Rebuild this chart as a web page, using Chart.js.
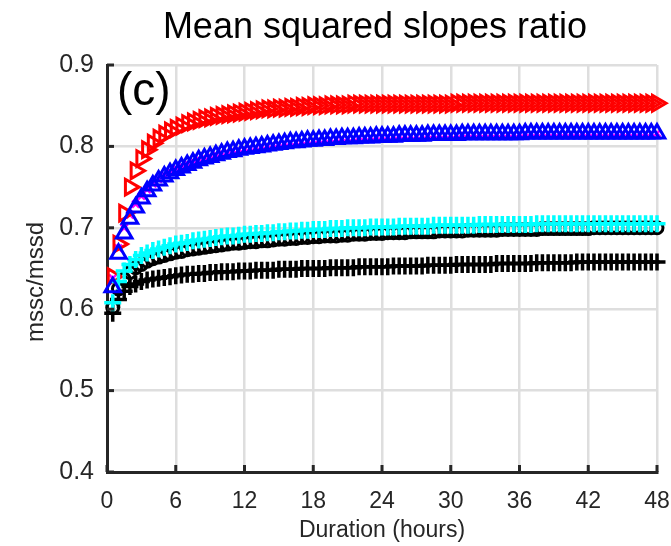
<!DOCTYPE html>
<html>
<head>
<meta charset="utf-8">
<script src="https://cdn.jsdelivr.net/npm/chart.js@4.4.1/dist/chart.umd.min.js"></script>
<style>
  html, body { margin: 0; padding: 0; background: #fff; }
  #wrap { width: 671px; height: 546px; }
</style>
</head>
<body>
<div id="wrap"><canvas id="myChart" width="671" height="546"></canvas></div>
<script>
// duration in hours, one sample every half hour
var hours = [
  0.5, 1, 1.5, 2, 2.5, 3, 3.5, 4, 4.5, 5, 5.5, 6,
  6.5, 7, 7.5, 8, 8.5, 9, 9.5, 10, 10.5, 11, 11.5, 12,
  12.5, 13, 13.5, 14, 14.5, 15, 15.5, 16, 16.5, 17, 17.5, 18,
  18.5, 19, 19.5, 20, 20.5, 21, 21.5, 22, 22.5, 23, 23.5, 24,
  24.5, 25, 25.5, 26, 26.5, 27, 27.5, 28, 28.5, 29, 29.5, 30,
  30.5, 31, 31.5, 32, 32.5, 33, 33.5, 34, 34.5, 35, 35.5, 36,
  36.5, 37, 37.5, 38, 38.5, 39, 39.5, 40, 40.5, 41, 41.5, 42,
  42.5, 43, 43.5, 44, 44.5, 45, 45.5, 46, 46.5, 47, 47.5, 48
];

var redVals = [
  .640, .680, .718, .750, .770, .785, .796, .804, .810, .815, .819, .822,
  .825, .828, .830, .832, .834, .835, .837, .838, .839, .840, .841, .842,
  .843, .844, .845, .846, .846, .847, .847, .848, .848, .849, .849, .850,
  .850, .850, .851, .851, .851, .851, .852, .852, .852, .852, .852, .852,
  .852, .852, .852, .852, .852, .852, .852, .852, .852, .852, .852, .852,
  .853, .853, .853, .853, .853, .853, .853, .853, .853, .853, .853, .853,
  .853, .853, .853, .853, .853, .853, .853, .853, .853, .853, .853, .853,
  .853, .853, .853, .853, .853, .853, .853, .853, .853, .853, .853, .853
];

var magentaVals = [
  .638, .675, .700, .716, .729, .739, .747, .754, .760, .765, .769, .773,
  .776, .779, .782, .784, .786, .788, .790, .792, .793, .795, .796, .797,
  .798, .799, .800, .801, .802, .803, .804, .805, .805, .806, .807, .807,
  .808, .808, .809, .809, .810, .810, .810, .811, .811, .811, .812, .812,
  .812, .812, .813, .813, .813, .813, .813, .814, .814, .814, .814, .814,
  .814, .815, .815, .815, .815, .815, .815, .815, .815, .815, .815, .815,
  .816, .816, .816, .816, .816, .816, .816, .816, .816, .816, .816, .816,
  .816, .816, .816, .816, .816, .816, .816, .816, .816, .816, .816, .816
];

var blueVals = [
  .627, .668, .693, .711, .725, .736, .745, .752, .758, .763, .767, .771,
  .774, .777, .780, .783, .785, .787, .789, .791, .793, .794, .796, .797,
  .798, .799, .800, .801, .802, .803, .804, .805, .805, .806, .807, .807,
  .808, .808, .809, .809, .810, .810, .810, .811, .811, .811, .812, .812,
  .812, .812, .813, .813, .813, .813, .813, .814, .814, .814, .814, .814,
  .814, .815, .815, .815, .815, .815, .815, .815, .815, .815, .815, .815,
  .816, .816, .816, .816, .816, .816, .816, .816, .816, .816, .816, .816,
  .816, .816, .816, .816, .816, .816, .816, .816, .816, .816, .816, .816
];

var cyanVals = [
  .608, .634, .647, .655, .661, .666, .669, .672, .674, .676, .678, .680,
  .681, .682, .684, .685, .686, .687, .688, .689, .690, .690, .691, .692,
  .692, .693, .693, .694, .694, .695, .695, .696, .696, .697, .697, .698,
  .698, .698, .699, .699, .699, .700, .700, .700, .700, .701, .701, .701,
  .701, .701, .702, .702, .702, .702, .702, .702, .703, .703, .703, .703,
  .703, .703, .703, .703, .704, .704, .704, .704, .704, .704, .704, .704,
  .704, .704, .705, .705, .705, .705, .705, .705, .705, .705, .705, .705,
  .705, .705, .705, .705, .705, .705, .705, .705, .705, .705, .705, .705
];

var circleVals = [
  .602, .625, .637, .645, .651, .655, .659, .662, .664, .666, .668, .670,
  .671, .673, .674, .675, .676, .677, .678, .679, .680, .681, .681, .682,
  .683, .683, .684, .684, .685, .686, .686, .687, .687, .688, .688, .689,
  .689, .690, .690, .690, .691, .691, .692, .692, .692, .693, .693, .693,
  .694, .694, .694, .694, .695, .695, .695, .695, .695, .696, .696, .696,
  .696, .696, .697, .697, .697, .697, .697, .697, .698, .698, .698, .698,
  .698, .698, .698, .699, .699, .699, .699, .699, .699, .699, .699, .699,
  .700, .700, .700, .700, .700, .700, .700, .700, .700, .700, .700, .700
];

var plusVals = [
  .595, .612, .622, .628, .631, .634, .636, .637, .638, .639, .640, .641,
  .642, .643, .643, .644, .644, .645, .645, .646, .646, .646, .647, .647,
  .647, .648, .648, .648, .648, .649, .649, .649, .649, .650, .650, .650,
  .650, .650, .651, .651, .651, .651, .651, .652, .652, .652, .652, .652,
  .652, .653, .653, .653, .653, .653, .653, .654, .654, .654, .654, .654,
  .655, .655, .655, .655, .655, .655, .655, .656, .656, .656, .656, .656,
  .656, .656, .657, .657, .657, .657, .657, .657, .657, .658, .658, .658,
  .658, .658, .658, .658, .658, .658, .658, .658, .658, .658, .658, .658
];

var xTicks = [0, 6, 12, 18, 24, 30, 36, 42, 48];
var yTicks = [0.4, 0.5, 0.6, 0.7, 0.8, 0.9];

var titleText = 'Mean squared slopes ratio';
var panelLabel = '(c)';
var xTitle = 'Duration (hours)';
var yTitle = 'mssc/mssd';
var fontFam = '"Liberation Sans", Arial, Helvetica, sans-serif';

function pts(vals) {
    return vals.map(function (v, i) { return { x: hours[i], y: v }; });
}

function series(vals, color, style, radius, rot, width) {
    return {
        data: pts(vals),
        showLine: false,
        pointStyle: style,
        pointRadius: radius,
        pointRotation: rot,
        pointBorderColor: color,
        pointBackgroundColor: 'rgba(0,0,0,0)',
        pointBorderWidth: width,
        clip: false
    };
}

// extra drawing: title, panel label, y title, inward axis ticks
var decorations = {
    id: 'decorations',
    afterDraw: function (chart) {
        var c = chart.ctx, a = chart.chartArea;
        var xs = chart.scales.x, ys = chart.scales.y;
        c.save();
        c.strokeStyle = '#262626';
        c.lineWidth = 3;
        xTicks.forEach(function (t) {
            var px = xs.getPixelForValue(t);
            c.beginPath(); c.moveTo(px, a.bottom); c.lineTo(px, a.bottom - 7); c.stroke();
        });
        yTicks.forEach(function (t) {
            var py = ys.getPixelForValue(t);
            c.beginPath(); c.moveTo(a.left, py); c.lineTo(a.left + 7, py); c.stroke();
        });
        c.fillStyle = '#000';
        c.textAlign = 'center';
        c.textBaseline = 'alphabetic';
        c.font = '36px ' + fontFam;
        c.fillText(titleText, 375, 38);
        c.textAlign = 'left';
        c.font = '46px ' + fontFam;
        c.fillText(panelLabel, a.left + 10, a.top + 40);
        c.fillStyle = '#262626';
        c.textAlign = 'center';
        c.textBaseline = 'middle';
        c.font = '24px ' + fontFam;
        c.translate(36, 282);
        c.rotate(-Math.PI / 2);
        c.fillText(yTitle, 0, 0);
        c.restore();
    }
};

var ctx = document.getElementById('myChart').getContext('2d');
var myChart = new Chart(ctx, {
    type: 'scatter',
    data: {
        datasets: [
            series(blueVals, '#0000ff', 'triangle', 9, 0, 3),
            series(cyanVals, '#00ffff', 'cross', 8.5, 0, 3.5),
            series(plusVals, '#000000', 'cross', 8.5, 0, 3.5),
            series(redVals, '#ff0000', 'triangle', 9, 90, 3),
            series(magentaVals, '#ff00ff', 'crossRot', 5, 0, 2.5),
            series(circleVals, '#000000', 'circle', 6, 0, 3)
        ]
    },
    options: {
        responsive: false,
        animation: false,
        maintainAspectRatio: false,
        layout: { padding: { top: 65, right: 14, left: 0, bottom: 0 } },
        plugins: {
            legend: { display: false },
            tooltip: { enabled: false }
        },
        scales: {
            x: {
                type: 'linear',
                min: 0,
                max: 48,
                afterFit: function (s) { s.height = 74; s.paddingRight = 0; s.paddingLeft = 0; },
                afterBuildTicks: function (s) { s.ticks = xTicks.map(function (v) { return { value: v }; }); },
                grid: { color: '#dedede', lineWidth: 2.5, drawTicks: false },
                border: { display: true, color: '#262626', width: 3 },
                ticks: {
                    padding: 16,
                    color: '#262626',
                    font: { family: fontFam, size: 23 },
                    maxRotation: 0
                },
                title: {
                    display: true,
                    text: xTitle,
                    color: '#262626',
                    font: { family: fontFam, size: 23 },
                    padding: { top: 0, bottom: 2 }
                }
            },
            y: {
                type: 'linear',
                min: 0.4,
                max: 0.9,
                afterFit: function (s) { s.width = 107; s.paddingTop = 0; s.paddingBottom = 0; },
                afterBuildTicks: function (s) { s.ticks = yTicks.map(function (v) { return { value: v }; }); },
                grid: { color: '#dedede', lineWidth: 2.5, drawTicks: false },
                border: { display: true, color: '#262626', width: 3 },
                ticks: {
                    padding: 13,
                    color: '#262626',
                    font: { family: fontFam, size: 25 },
                    callback: function (v) { return v.toFixed(1); }
                }
            }
        }
    },
    plugins: [decorations]
});
</script>
</body>
</html>
